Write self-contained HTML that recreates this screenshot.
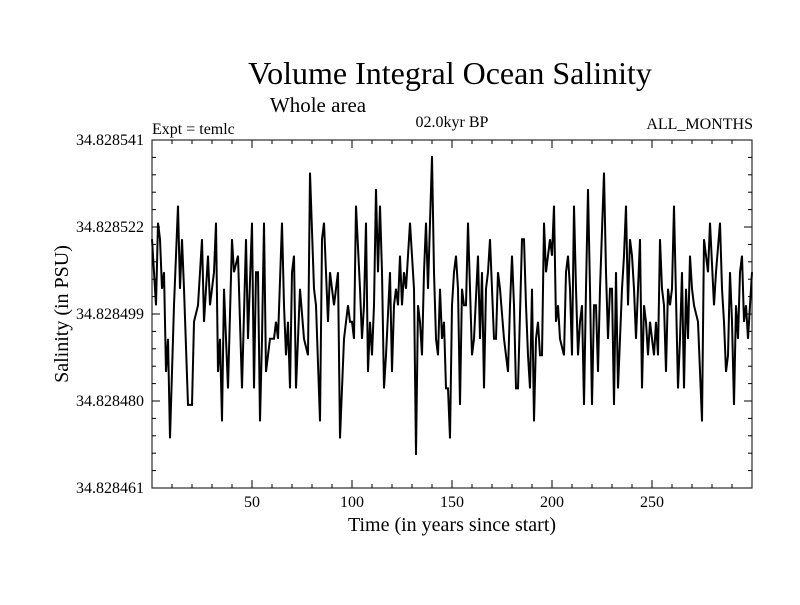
<!DOCTYPE html>
<html><head><meta charset="utf-8"><style>
body{margin:0;background:#fff;}
svg text{font-family:"Liberation Serif",serif;fill:#000;}
</style></head><body>
<svg id="chart" width="800" height="600" viewBox="0 0 800 600" xmlns="http://www.w3.org/2000/svg">
<rect width="800" height="600" fill="#fff"/>
<text x="450" y="84" font-size="32" text-anchor="middle">Volume Integral Ocean Salinity</text>
<text x="318" y="112" font-size="21" text-anchor="middle">Whole area</text>
<text x="152" y="134" font-size="16">Expt = temlc</text>
<text x="452" y="127" font-size="16" text-anchor="middle">02.0kyr BP</text>
<text x="753" y="129" font-size="16" text-anchor="end">ALL_MONTHS</text>
<text x="0" y="0" font-size="20" text-anchor="middle" transform="translate(68,314) rotate(-90)">Salinity (in PSU)</text>
<text x="452" y="531" font-size="20" text-anchor="middle">Time (in years since start)</text>
<g id="axes"></g>
<g id="series"></g>
<rect x="152" y="140" width="600" height="348" fill="none" stroke="#000" stroke-width="1"/>
</svg>
<script>
const years = [0,1,2,3,4,5,6,7,8,9,10,11,13,14,15,16,18,20,21,23,25,26,28,29,31,32,33,34,35,36,38,40,41,43,45,47,48,50,
51,52,53,54,55,56,57,58,59,61,62,63,65,66,67,68,69,70,71,72,74,76,78,79,81,82,84,85,86,88,89,91,93,94,96,98,
99,100,101,102,104,105,106,107,108,109,110,111,112,113,114,115,116,117,119,120,121,122,123,124,125,126,127,129,131,132,133,134,135,136,137,138,140,141,142,143,144,145,146,147,148,149,150,
151,152,153,154,155,156,157,158,159,160,161,163,164,165,166,167,168,169,171,172,173,174,176,177,178,179,180,181,182,183,185,186,187,188,189,190,191,192,193,194,195,196,197,198,199,200,201,
202,203,204,206,207,208,209,210,211,212,213,214,215,216,217,218,219,220,221,222,223,224,226,227,228,229,230,231,232,233,234,235,236,237,238,239,240,241,242,243,244,245,246,247,248,249,
250,251,252,253,254,255,256,257,258,259,260,261,263,264,265,266,267,268,269,270,271,273,275,276,278,279,281,282,284,285,286,287,288,289,290,291,292,293,294,295,296,297,298,299,300];
// salinity in units of 1e-6 PSU above 34.828
const salinityMicro = [518.2,510.6,503.0,522.0,518.2,506.8,510.6,487.7,495.3,472.4,487.7,503.0,525.9,506.8,518.2,506.8,480.1,480.1,499.2,503.0,518.2,499.2,514.4,503.0,510.6,522.0,487.7,495.3,476.3,506.8,483.9,518.2,510.6,514.4,483.9,518.2,495.3,522.0,
483.9,510.6,510.6,476.3,495.3,522.0,487.7,491.5,495.3,495.3,499.2,495.3,522.0,503.0,491.5,499.2,483.9,510.6,514.4,483.9,506.8,495.3,491.5,533.5,506.8,503.0,476.3,518.2,522.0,499.2,510.6,503.0,510.6,472.4,495.3,503.0,
499.2,499.2,495.3,525.9,506.8,495.3,503.0,522.0,487.7,499.2,491.5,503.0,529.7,510.6,525.9,510.6,483.9,491.5,510.6,487.7,503.0,506.8,503.0,514.4,503.0,510.6,506.8,522.0,506.8,468.6,503.0,499.2,491.5,510.6,522.0,506.8,537.3,510.6,495.3,491.5,506.8,495.3,499.2,483.9,483.9,472.4,503.0,
510.6,514.4,506.8,480.1,506.8,503.0,503.0,522.0,506.8,491.5,495.3,514.4,495.3,510.6,483.9,506.8,510.6,518.2,495.3,495.3,510.6,506.8,495.3,491.5,487.7,503.0,514.4,503.0,483.9,483.9,518.2,518.2,503.0,491.5,483.9,506.8,476.3,495.3,499.2,491.5,491.5,522.0,510.6,514.4,518.2,514.4,525.9,
499.2,503.0,495.3,491.5,510.6,514.4,506.8,491.5,525.9,506.8,491.5,499.2,503.0,480.1,506.8,529.7,506.8,480.1,503.0,503.0,487.7,506.8,533.5,510.6,495.3,506.8,506.8,480.1,510.6,483.9,495.3,506.8,514.4,525.9,503.0,518.2,514.4,506.8,495.3,506.8,518.2,483.9,503.0,499.2,491.5,499.2,
495.3,491.5,499.2,491.5,518.2,506.8,503.0,487.7,506.8,503.0,506.8,525.9,483.9,495.3,510.6,483.9,506.8,495.3,514.4,506.8,503.0,499.2,476.3,518.2,510.6,522.0,503.0,510.6,522.0,506.8,499.2,487.7,491.5,510.6,499.2,480.1,503.0,495.3,510.6,514.4,499.2,503.0,495.3,503.0,510.6];
const xTickValues = [50,100,150,200,250];
const yTickValues = [461,481,501,521,541];
const yTickLabels = ["34.828461","34.828480","34.828499","34.828522","34.828541"];

const X0=152,X1=752,Y0=488,Y1=140;
const xDomain=[0,300], yDomain=[461,541];
function xScale(v){return X0+(v-xDomain[0])/(xDomain[1]-xDomain[0])*(X1-X0);}
function yScale(v){return Y0-(v-yDomain[0])/(yDomain[1]-yDomain[0])*(Y0-Y1);}
const NS="http://www.w3.org/2000/svg";
const axes=document.getElementById('axes');
function line(x1,y1,x2,y2,name){
  const l=document.createElementNS(NS,'line');
  l.setAttribute('x1',x1);l.setAttribute('y1',y1);l.setAttribute('x2',x2);l.setAttribute('y2',y2);
  l.setAttribute('stroke','#000');l.setAttribute('stroke-width','1');
  
  
  axes.appendChild(l);
}
for(let v=10;v<300;v+=10){
  const x=xScale(v);const len=(v%50===0)?8:4;
  line(x,Y0,x,Y0-len,'x-tick');
  line(x,Y1,x,Y1+len,'x-tick-top');
}
xTickValues.forEach(v=>{
  const t=document.createElementNS(NS,'text');
  t.setAttribute('x',xScale(v));t.setAttribute('y',507);t.setAttribute('font-size','16');t.setAttribute('text-anchor','middle');
  t.textContent=v;
  
  
  axes.appendChild(t);
});
for(let i=0;i<yTickValues.length;i++){
  const y=yScale(yTickValues[i]);
  line(X0,y,X0+8,y,'y-tick');
  line(X1,y,X1-8,y,'y-tick-right');
  if(i<yTickValues.length-1){
    const step=(yTickValues[i+1]-yTickValues[i])/5;
    for(let j=1;j<5;j++){
      const ym=yScale(yTickValues[i]+j*step);
      line(X0,ym,X0+4,ym,'y-minor-tick');
      line(X1,ym,X1-4,ym,'y-minor-tick-right');
    }
  }
  const t=document.createElementNS(NS,'text');
  t.setAttribute('x',144);t.setAttribute('y',y+5);t.setAttribute('font-size','16');t.setAttribute('text-anchor','end');
  t.textContent=yTickLabels[i];
  
  
  axes.appendChild(t);
}
const pts=years.map((yr,i)=>xScale(yr).toFixed(1)+','+yScale(salinityMicro[i]).toFixed(1)).join(' ');
const pl=document.createElementNS(NS,'polyline');
pl.setAttribute('points',pts);pl.setAttribute('fill','none');pl.setAttribute('stroke','#000');pl.setAttribute('stroke-width','2');pl.setAttribute('stroke-linejoin','miter');


document.getElementById('series').appendChild(pl);
</script>
</body></html>
